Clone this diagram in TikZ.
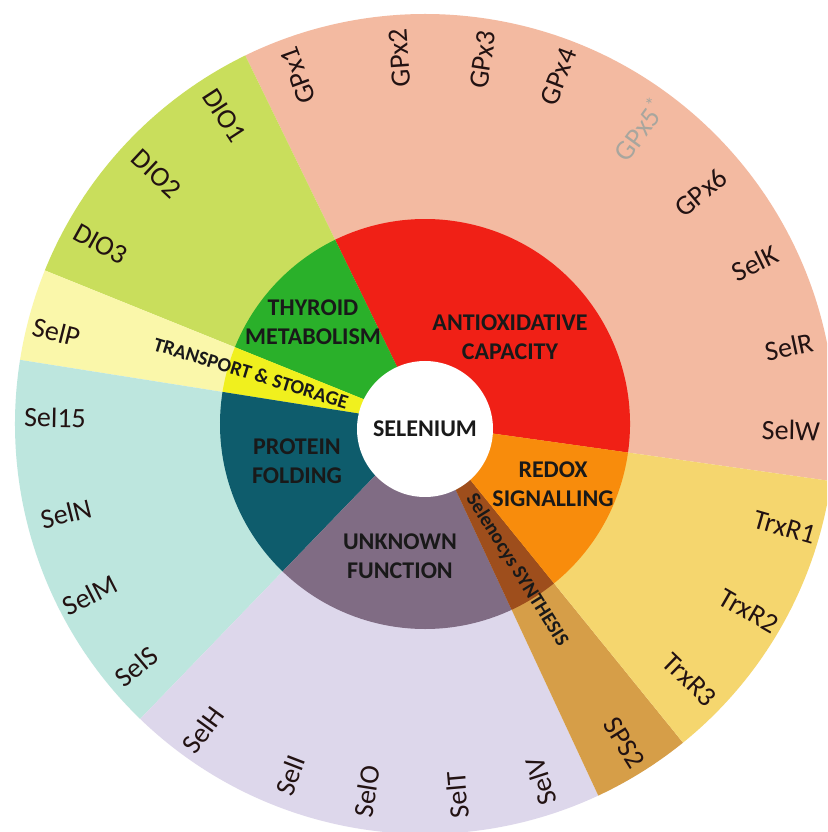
\documentclass[tikz,border=0pt]{standalone}
\usepackage{fontspec}
\setmainfont{Carlito}
\definecolor{cSalmon}{RGB}{243,186,161}
\definecolor{cDio}{RGB}{201,222,92}
\definecolor{cSelP}{RGB}{250,247,170}
\definecolor{cCyan}{RGB}{189,230,222}
\definecolor{cLav}{RGB}{221,215,235}
\definecolor{cTan}{RGB}{214,158,72}
\definecolor{cTrx}{RGB}{245,214,110}
\definecolor{cRed}{RGB}{240,32,22}
\definecolor{cGreen}{RGB}{42,176,42}
\definecolor{cYellow}{RGB}{240,240,30}
\definecolor{cTeal}{RGB}{14,92,108}
\definecolor{cPurple}{RGB}{128,108,132}
\definecolor{cBrown}{RGB}{158,78,28}
\definecolor{cOrange}{RGB}{248,140,12}
\definecolor{cInk}{RGB}{34,18,18}
\definecolor{cGrey}{RGB}{168,166,158}
\begin{document}
\begin{tikzpicture}[
  outlbl/.style={font=\fontsize{28}{30}\selectfont, text=cInk, inner sep=0pt},
  inlbl/.style={font=\fontsize{24}{29}\selectfont\bfseries, align=center, text=black!90, inner sep=0pt},
  smalllbl/.style={font=\fontsize{20}{22}\selectfont\bfseries, text=black!90, inner sep=0pt},
]
\useasboundingbox (-425pt,-408pt) rectangle (402pt,424pt);
\clip (-425pt,-408pt) rectangle (402pt,424pt);
\fill[white] (-425pt,-408pt) rectangle (402pt,424pt);
% outer ring sectors
\foreach \a/\b/\c in {-8/116/cSalmon, 116/158/cDio, 158/171/cSelP, 171/226/cCyan, 226/295/cLav, 295/309/cTan, 309/352/cTrx}{
  \fill[\c] (0,0) -- (\a:410pt) arc[start angle=\a, end angle=\b, radius=410pt] -- cycle;
}
% inner ring sectors
\foreach \a/\b/\c in {-8/116/cRed, 116/158/cGreen, 158/171/cYellow, 171/226/cTeal, 226/295/cPurple, 295/309/cBrown, 309/352/cOrange}{
  \fill[\c] (0,0) -- (\a:205pt) arc[start angle=\a, end angle=\b, radius=205pt] -- cycle;
}
% centre
\node[circle, fill=white, minimum size=136pt, inner sep=0pt,
      font=\fontsize{24}{26}\selectfont\bfseries, text=black!90] (selenium) at (0pt,-5pt) {SELENIUM};
% inner labels
\node[inlbl] (thyroid) at (-112pt,102pt) {THYROID\\METABOLISM};
\node[inlbl] (antiox) at (85pt,87pt) {ANTIOXIDATIVE\\CAPACITY};
\node[inlbl] (protein) at (-128pt,-37pt) {PROTEIN\\FOLDING};
\node[inlbl] (unknown) at (-25pt,-132pt) {UNKNOWN\\FUNCTION};
\node[inlbl] (redox) at (128pt,-60pt) {REDOX\\SIGNALLING};
\node[smalllbl, rotate=-17] (transport) at (-174pt,51pt) {TRANSPORT \& STORAGE};
\node[smalllbl, rotate=-58] (selenocys) at (92pt,-146pt) {Selenocys SYNTHESIS};
% outer labels reading outward
\foreach \n/\ang/\r/\t in {gpx1/110/371/GPx1, gpx2/94/367/GPx2, gpx3/81/369/GPx3, gpx4/69/372/GPx4,
  gpx6/40/360/GPx6, selk/26/367/SelK, selr/12/372/SelR, selw/-1/366/SelW,
  trxr1/-16/374/TrxR1, trxr2/-30/374/TrxR2, trxr3/-44/368/TrxR3, sps2/-58/376/SPS2}{
  \node[outlbl, rotate=\ang] (\n) at (\ang:\r pt) {\t};
}
\node[outlbl, text=cGrey, rotate=54] (gpx5) at (54:364pt) {GPx5\textsuperscript{*}};
% outer labels reading inward
\foreach \n/\ang/\r/\t in {selv/288/376/SelV, selt/275/372/SelT, selo/261/372/SelO, seli/249/376/SelI,
  selh/234/378/SelH, sels/220/377/SelS, selm/207/376/SelM, seln/194/370/SelN, sel15/179/370/Sel15,
  selp/166/380/SelP, dio3/151/371/DIO3, dio2/137/367/DIO2, dio1/123/368/DIO1}{
  \pgfmathsetmacro{\rot}{\ang-180}
  \node[outlbl, rotate=\rot] (\n) at (\ang:\r pt) {\t};
}
\end{tikzpicture}
\end{document}
